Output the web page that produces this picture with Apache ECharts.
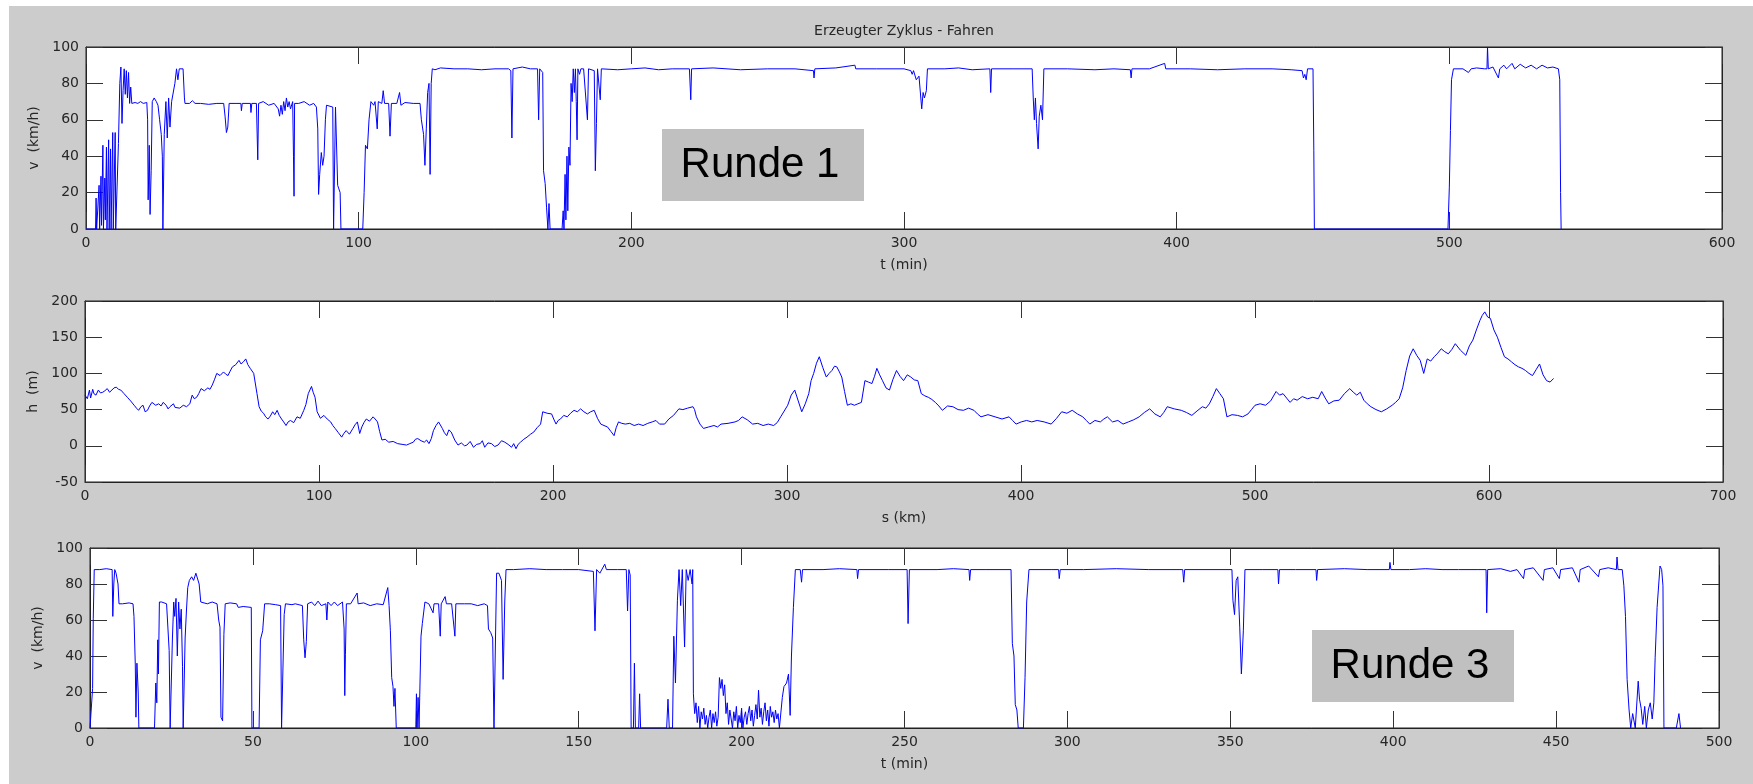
<!DOCTYPE html>
<html>
<head>
<meta charset="utf-8">
<script src="https://cdn.jsdelivr.net/npm/echarts@6/dist/echarts.min.js"></script>
<style>
html,body{margin:0;padding:0;background:#fff;}
#c{width:1753px;height:784px;}
</style>
</head>
<body>
<div id="c"></div>
<script>
// ---- Data ----
const chartTitle = 'Erzeugter Zyklus - Fahren';

// Runde 1: [t (min), v (km/h)]
const runde1 = [[0,0],[3.5,0],[3.7,17],[3.9,0],[4.6,0],[4.8,24],[5.0,0],[5.5,29],[5.7,2],[6.2,46],[6.4,0],[6.9,28],[7.1,5],[7.5,45],[7.7,0],[8.3,49],[8.5,0],[9.0,44],[9.2,0],[9.8,53],[10.0,0],[10.7,53],[10.9,0],[11.6,0],[11.9,47],[12.4,80],[12.8,89],[13.2,58],[13.6,76],[14.0,88],[14.4,74],[14.8,87],[15.2,72],[15.6,86],[16.0,69],[16.4,78],[16.8,69],[17.5,69],[18,69.5],[19,69],[20,70],[21,69],[22.3,69.5],[22.6,60],[22.8,16],[23.2,46],[23.5,8],[23.9,32],[24.3,70],[25,72],[25.8,70],[26.4,68],[27,60],[27.6,52],[28,40],[28.2,0],[28.5,0],[28.7,52],[29.3,70],[29.8,50],[30.3,72],[30.8,56],[31.4,70],[32,71],[32.6,80],[33.2,88],[33.7,82],[34.2,88],[35.6,88],[36.1,72],[36.3,69],[38,69],[39,70.5],[40,69],[42,69],[45,68.5],[48,69],[50.5,69],[51,62],[51.5,53],[52,56],[52.5,69],[55,69],[56.8,69],[57,65],[57.3,69],[60.3,69],[60.5,64],[60.8,69],[62.5,69],[62.8,50],[63,38],[63.3,69],[65,70],[67,68],[69,69],[70.5,66],[71,62],[71.5,68],[72,63],[72.5,70],[73,65],[73.5,72],[74,67],[74.5,70],[75,66],[75.8,70],[76.1,40],[76.3,18],[76.5,69],[78,69],[80,70],[82,68],[83.5,69],[84.5,67],[85,55],[85.3,19],[85.7,30],[86.3,42],[86.8,35],[87.3,40],[87.8,60],[88.2,68],[90.5,67],[90.8,0],[91.2,0],[91.5,67],[92,67],[92.3,24],[93.2,20],[93.5,0],[101.5,0],[102,20],[102.5,46],[103.2,44],[103.8,60],[104.5,70],[105.5,68],[106,70],[106.8,55],[107.2,70],[108.5,69],[109,76],[109.5,69],[111,69],[111.5,51],[112,69],[114,69],[115,75],[115.5,68],[117,69.5],[120,69],[122.5,69],[123,60],[123.8,52],[124.3,35],[124.8,55],[125.3,75],[125.8,80],[126.2,30],[126.6,80],[127,88],[128,87.5],[130,88.5],[135,88],[140,88],[145,87.5],[150,88],[155,88],[155.8,87],[156.2,50],[156.6,88],[160,89],[163,88],[165.6,88],[166,60],[166.4,88],[167.5,86],[167.8,32],[168.4,25],[168.9,12],[169.4,0],[169.8,14],[170.2,0],[174.6,0],[175,10],[175.3,0],[175.7,30],[176,5],[176.4,40],[176.7,10],[177.1,45],[177.5,35],[177.9,80],[178.3,70],[178.7,88],[179.1,75],[179.5,88],[179.8,70],[180.1,49],[180.4,88],[181,85],[181.5,88],[182.5,88],[183.9,60],[184.3,88],[186.4,87],[186.8,32],[187.2,58],[187.6,88],[188.2,88],[188.6,71],[189,88],[195,87.5],[200,88],[205,88.5],[210,87.5],[215,88],[221.3,88],[221.6,87],[221.8,71],[222.1,88],[230,88.5],[240,87.5],[250,88],[260,88],[266.8,87],[267,83],[267.3,88],[275,88.5],[282,90],[282.3,88],[290,88],[300,88],[302.5,87],[303,85],[303.5,87],[304.5,82],[305.5,84],[306.5,66],[307,75],[307.5,72],[308.2,76],[308.6,88],[315,88],[320,88.5],[325,87.5],[331.5,88],[331.8,75],[332.1,88],[340,88],[347,88],[347.4,72],[347.8,60],[348.2,72],[348.6,58],[349.2,44],[349.6,62],[350.2,68],[350.8,60],[351.3,88],[360,88],[370,87.5],[377,88],[383,87.5],[383.3,83],[383.6,88],[390,88],[395.6,91],[396,88],[405,88],[415,87.5],[425,88],[435,88],[442,87.5],[446,87],[446.5,83],[447,85],[447.5,82],[448,88],[450,88],[450.3,43],[450.5,0],[499.5,0],[500,23],[500.4,54],[500.8,82],[501.5,88],[505,88],[507,86],[508,88],[510,88.5],[513,88],[513.8,88],[514,100],[514.3,88],[516,89],[518,83],[518.5,88],[520,90],[521,88],[523,91],[524,88],[526,90.5],[528,88.5],[530,90],[532,88],[534,90],[536,88.5],[538,89],[540,88],[540.5,82],[540.8,20],[541,0]];

// Elevation profile: [s (km), h (m)]
const hoehe = [[0,70],[1,65],[1.9,77],[2.4,66],[2.9,68],[3.3,78],[3.8,72],[4.7,70],[5.7,77],[6.6,73],[7.6,74],[8.5,76],[9.5,79],[10.5,74],[11.5,77],[12.4,80],[13.4,81],[14.3,78],[15.3,77],[16.7,72],[18.1,67],[19.5,62],[21,56],[22,52],[22.9,49],[23.9,54],[24.8,56],[25.7,47],[26.7,49],[27.6,55],[28.6,60],[29.4,58],[30.2,56],[31.5,58],[32.5,55],[33.4,60],[34.7,56],[35.5,51],[36.3,54],[37.8,58],[38.5,53],[39.1,54],[40.5,52],[42,56],[43.4,54],[44.8,58],[45.8,70],[46.7,65],[47.7,67],[48.6,72],[49.6,79],[51,76],[52.5,80],[53.4,78],[54.4,84],[55.4,92],[56.3,100],[57.7,97],[59.2,102],[60.1,99],[61.1,97],[62,103],[63,109],[64.4,112],[65.8,118],[66.7,113],[67.7,116],[68.7,120],[69.6,112],[70.6,107],[72.1,100],[73.5,72],[74.4,54],[75.3,48],[76.3,45],[77.2,40],[78.2,37],[79.2,41],[80.2,47],[81.1,43],[82.1,49],[83,42],[84,37],[84.9,33],[85.9,28],[86.8,33],[87.8,35],[89.2,32],[90.6,40],[92,38],[93.5,49],[94.4,57],[95.4,72],[96.8,82],[97.5,74],[98.3,67],[99.2,47],[100.6,38],[102.1,42],[103.5,37],[105,33],[105.9,28],[106.9,24],[108.3,18],[109.7,12],[110.6,17],[111.6,21],[113,16],[114.5,24],[115.4,29],[116.4,33],[117.4,17],[118.3,26],[119.2,32],[120.2,37],[121.6,34],[123.1,40],[124,37],[125,33],[125.9,20],[126.9,8],[128.3,9],[129.8,5],[131.7,6],[133.6,3],[135.5,2],[137.4,1],[138.8,3],[140.3,5],[141.2,9],[142.2,10],[143.6,7],[145,5],[146,8],[147,3],[148,10],[148.9,21],[150,28],[151.1,33],[152.7,24],[153.6,18],[154.6,14],[155.5,22],[156.5,19],[158,8],[159.4,1],[160.8,4],[162.2,0],[163.2,1],[164.6,6],[166,-2],[167.4,2],[168.9,3],[169.8,7],[170.8,-2],[172.2,4],[173.7,3],[175.1,-1],[176.5,1],[178,7],[179.4,5],[180.8,2],[182.3,-2],[183.2,3],[184.2,-4],[185.1,2],[186.1,5],[187.5,9],[188.9,12],[190.4,16],[191.8,19],[193.2,25],[194.7,30],[195.6,47],[197.5,45],[199.4,44],[200.3,37],[201.3,30],[202.2,35],[203.2,37],[204.6,42],[206.1,40],[207.5,45],[209,49],[210.4,47],[211.8,51],[213.2,47],[214.7,44],[216.1,47],[217.6,49],[219,38],[220.4,30],[221.8,28],[223.3,26],[224.7,20],[226.1,14],[227,25],[228,33],[229.4,31],[230.9,30],[232.8,31],[234.7,28],[236.6,30],[238.5,28],[240.5,31],[242.4,33],[244,35],[245.5,30],[247.7,30],[249.5,37],[251.5,42],[253.8,51],[255.5,50],[257.5,52],[259.8,54],[260.5,50],[261.3,40],[262.8,30],[264.3,24],[266.5,26],[268.8,28],[270.3,26],[271.8,30],[274.8,31],[277.8,33],[279.3,35],[280.8,40],[283,36],[285.3,30],[287.5,31],[289.8,28],[292,30],[294.3,28],[295.8,32],[297.3,40],[298.8,48],[300.3,56],[301.8,70],[303.3,77],[304.8,62],[306.3,47],[307.8,58],[309.3,72],[310.3,90],[311.4,100],[312.6,114],[313.8,123],[315.3,108],[316.8,95],[318,100],[319.2,104],[320.3,110],[321.3,109],[322.4,102],[323.4,95],[324.6,75],[325.8,56],[327.3,58],[328.8,56],[330.3,58],[331.8,60],[333.3,90],[334.8,88],[336.3,86],[337.4,96],[338.4,107],[339.6,98],[340.8,90],[342.3,80],[343.8,77],[345.3,92],[346.8,104],[348.3,96],[349.8,90],[351.4,98],[352.9,95],[354.4,91],[355.9,90],[357.4,72],[358.9,69],[360.4,67],[361.9,64],[363.4,60],[364.9,55],[366.4,49],[368.6,55],[370.9,54],[373.1,50],[375.4,49],[377.6,52],[379.9,49],[381.4,44],[382.9,40],[385.9,43],[388.9,40],[391.9,37],[394.9,40],[396.4,35],[397.9,30],[400.1,33],[402.4,35],[404.6,33],[406.9,35],[409.9,33],[412.9,30],[415.2,38],[417.4,47],[419.6,45],[421.9,49],[424.1,44],[426.4,40],[427.9,35],[429.4,30],[431.6,35],[433.9,33],[435.4,37],[436.9,40],[439.1,33],[441.4,35],[443.6,30],[445.9,33],[448.2,36],[450.5,40],[452.7,46],[455,51],[457.2,44],[459.5,40],[461,46],[462.5,54],[465.5,51],[468.5,49],[470.7,46],[473,42],[475.2,48],[477.5,54],[479,52],[480.5,58],[482,68],[483.5,79],[485,72],[486.5,65],[488,40],[490.2,43],[492.5,42],[494.7,40],[497,44],[498.5,50],[500,56],[502.2,58],[504.5,56],[506.7,62],[509,75],[510.5,70],[512,72],[513.5,66],[515,60],[516.5,65],[518,63],[520.2,68],[522.5,65],[524.7,67],[527,65],[528.5,75],[530,66],[531.5,58],[533.7,62],[536,63],[538.2,72],[540.5,79],[542,74],[543.5,70],[545,74],[546.5,63],[548,58],[549.5,54],[551.7,50],[554,47],[556.3,51],[558.6,56],[560.1,60],[561.6,65],[563.1,80],[564.6,104],[566.1,124],[567.6,134],[569.1,125],[570.6,118],[572.1,100],[573.6,120],[575.1,117],[576.6,123],[578.1,128],[579.6,134],[581.1,130],[582.6,127],[584.1,133],[585.6,141],[587.8,132],[590.1,125],[591.6,138],[593.1,146],[594.6,160],[596.1,173],[597.1,180],[598.2,185],[599.4,178],[600.6,176],[602.1,160],[603.6,150],[605.1,136],[606.6,123],[608.1,120],[609.6,116],[611.1,112],[612.6,109],[614.1,107],[615.6,104],[617.1,100],[618.6,97],[620.1,105],[621.6,113],[623.1,98],[624.6,90],[626.1,88],[627.6,93]];

// Runde 3: [t (min), v (km/h)]
const runde3 = [[0,0],[0.6,0],[0.8,22],[1.0,61],[1.3,88],[3,88],[5,88.5],[6.8,88],[7.0,62],[7.3,80],[7.6,88],[8.0,86],[8.6,80],[8.9,69],[10,69],[12,69.5],[13.2,69],[13.5,62],[13.9,35],[14.1,6],[14.4,36],[14.8,20],[15.0,0],[19.8,0],[20.2,25],[20.5,14],[20.8,49],[21.0,30],[21.3,70],[22,70],[23.5,69],[24,68],[24.3,43],[24.6,0],[24.9,0],[25.3,50],[25.7,70],[26,62],[26.4,72],[26.8,40],[27.2,70],[27.6,55],[28,66],[28.4,34],[28.6,0],[28.8,0],[29.2,50],[29.6,65],[30,78],[30.5,82],[31.2,84],[31.8,82],[32.5,86],[33,87],[33.5,80],[34,70],[34.5,69],[36,69],[37.5,70],[39,69],[39.5,60],[39.9,56],[40.2,6],[40.7,4],[41.1,52],[41.5,69],[43,69.5],[45,69],[45.5,67],[47,67.5],[49.5,67],[49.7,0],[51.9,0],[52.3,49],[53,54],[53.6,69],[55,69],[57,68.5],[58.5,68],[58.8,0],[59.3,0],[59.6,63],[60,69],[62,68.5],[63,69],[65.2,68],[65.6,49],[66,39],[66.4,48],[66.8,69],[68,70],[69,68],[70,70.5],[71,68],[72.4,69],[72.7,60],[73,70],[74,68],[75,70],[76,68],[77.5,70],[78,55],[78.2,18],[78.4,41],[78.7,69],[80,69],[82,75],[82.3,69],[84,69.5],[86,68],[88,69],[90,68.5],[91.4,78],[91.8,68],[92.2,54],[92.6,28],[93,23],[93.3,12],[93.6,22],[94,0],[100,0],[100.2,19],[100.4,0],[100.7,17],[101,0],[101.3,0],[101.6,51],[102,58],[102.8,70],[104,69],[105.3,64],[105.6,69],[107,69],[107.5,51],[107.8,69],[109,73],[109.4,69],[111,69],[112,51],[112.3,69],[115,69],[117,69],[119,68],[121,69],[122,68],[122.3,55],[123,53],[123.6,50],[124,0],[124.3,0],[124.8,86],[125.5,86],[126.3,82],[126.8,27],[127.3,70],[127.7,88],[130,88],[135,88.5],[140,88],[145,88],[150,88],[154.5,87],[155,54],[155.5,88],[156.5,86],[158,91],[158.5,88],[162,88],[164.6,88],[165,65],[165.4,88],[165.8,85],[166.1,0],[166.8,0],[167.1,36],[167.4,0],[168.4,0],[168.7,19],[169,0],[177,0],[177.4,16],[177.8,0],[178.8,0],[179.2,51],[179.7,25],[180.3,71],[180.8,88],[181.3,68],[181.8,88],[182.5,45],[183,88],[183.6,82],[184.2,88],[184.8,80],[185.0,88],[185.2,19],[185.6,8],[186,14],[186.4,3],[186.8,12],[187.2,0],[187.6,9],[188,5],[188.4,11],[188.8,2],[189.2,7],[189.6,0],[190,6],[190.4,10],[190.8,0],[191.2,8],[191.6,3],[192,9],[192.4,1],[192.8,6],[193.2,28],[193.6,22],[194,27],[194.4,18],[194.8,24],[195.2,8],[195.6,14],[196,2],[196.4,10],[196.8,5],[197.2,0],[197.6,9],[198,4],[198.4,12],[198.8,0],[199.2,7],[199.6,3],[200,11],[200.4,0],[200.8,6],[201.2,9],[201.6,2],[202,8],[202.4,12],[202.8,4],[203.2,10],[203.6,1],[204,7],[204.4,13],[204.8,5],[205.2,21],[205.6,6],[206,11],[206.4,2],[206.8,9],[207.2,14],[207.6,4],[208,10],[208.4,1],[208.8,12],[209.2,6],[209.6,9],[210,3],[210.4,10],[210.8,5],[211.2,8],[211.6,0],[212,0],[212.5,17],[213,23],[213.8,25],[214.4,30],[214.9,7],[215.3,40],[215.9,67],[216.5,88],[218,88],[218.4,81],[218.7,88],[225,88],[230,88.5],[235.4,88],[235.6,83],[235.9,88],[245,88],[250.8,88],[251.1,58],[251.5,88],[260,88],[265,88.5],[269.8,88],[270,82],[270.3,88],[275,88],[282.7,88],[283.1,47],[283.6,40],[284,13],[284.5,10],[284.9,0],[286.5,0],[287,28],[287.5,70],[288.2,88],[295,88],[297.3,88],[297.5,83],[297.8,88],[305,88],[315,88.5],[325,88],[335.4,88],[335.7,81],[336,88],[345,88],[350.5,88],[350.8,71],[351.3,63],[351.8,82],[352.3,84],[352.9,56],[353.4,30],[354,54],[354.5,88],[360,88],[364.6,88],[364.8,80],[365.1,88],[370,88],[376.3,88],[376.5,82],[376.8,88],[385,88.5],[392,88],[398.8,88],[399,92],[399.3,88],[405,88],[410,88.5],[415,88],[420,88],[426,88],[428.5,88],[428.7,64],[429,88],[433,88.5],[436,87],[438,88],[440,83],[440.4,88],[443,89],[446,82],[446.4,88],[449,89],[451,83],[451.4,88],[455,89],[457,81],[457.4,88],[460,90],[463,84],[463.4,88],[466,89],[468.5,88],[468.7,95],[469,88],[470.3,88],[470.8,79],[471.3,62],[471.8,27],[472.4,10],[472.9,0],[473.5,8],[474.3,0],[475.2,26],[475.6,16],[476.1,11],[476.6,2],[477.2,12],[477.7,0],[478.3,10],[478.9,14],[479.5,5],[480,14],[480.4,39],[481,67],[481.9,90],[482.4,88],[482.8,79],[483.1,0],[486.9,0],[487.7,8],[488.2,0]];

// ---- Layout / style ----
const font = 'DejaVu Sans';
const labelColor = '#262626';
const lineColor = '#222';

const grids = [
  {left: 86, top: 47, width: 1636, height: 182},
  {left: 85, top: 301, width: 1638, height: 181},
  {left: 90, top: 548, width: 1629, height: 180}
];

function xPair(g, max, interval, name) {
  const common = {gridIndex: g, type: 'value', min: 0, max: max, interval: interval,
    axisLine: {show: true, onZero: false, lineStyle: {color: lineColor, width: 1}},
    axisTick: {show: true, inside: true, length: 17, lineStyle: {color: '#333', width: 1}},
    splitLine: {show: false}};
  return [
    Object.assign({}, common, {position: 'bottom', name: name, nameLocation: 'middle', nameGap: 29,
      nameTextStyle: {fontFamily: font, fontSize: 14, color: labelColor},
      axisLabel: {show: true, margin: 7, fontFamily: font, fontSize: 14, color: labelColor}}),
    Object.assign({}, common, {position: 'top', axisLabel: {show: false}})
  ];
}
function yPair(g, min, max, interval, name) {
  const common = {gridIndex: g, type: 'value', min: min, max: max, interval: interval,
    axisLine: {show: true, onZero: false, lineStyle: {color: lineColor, width: 1}},
    axisTick: {show: true, inside: true, length: 17, lineStyle: {color: '#333', width: 1}},
    splitLine: {show: false}};
  return [
    Object.assign({}, common, {position: 'left', name: name, nameLocation: 'middle', nameGap: 43,
      nameTextStyle: {fontFamily: font, fontSize: 14, color: labelColor},
      axisLabel: {show: true, margin: 7, fontFamily: font, fontSize: 14, color: labelColor}}),
    Object.assign({}, common, {position: 'right', axisLabel: {show: false}})
  ];
}

const xAxes = [].concat(xPair(0, 600, 100, 't (min)'), xPair(1, 700, 100, 's (km)'), xPair(2, 500, 50, 't (min)'));
const yAxes = [].concat(yPair(0, 0, 100, 20, 'v  (km/h)'), yPair(1, -50, 200, 50, 'h  (m)'), yPair(2, 0, 100, 20, 'v  (km/h)'));

function lineSeries(data, axisIdx) {
  return {type: 'line', data: data, xAxisIndex: axisIdx * 2, yAxisIndex: axisIdx * 2,
    showSymbol: false, symbol: 'none', clip: true, animation: false,
    lineStyle: {color: '#0000ff', width: 1}, itemStyle: {color: '#0000ff'}};
}

function labelBox(x, y, w, h, text) {
  return {type: 'group', left: x, top: y, children: [
    {type: 'rect', shape: {x: 0, y: 0, width: w, height: h}, style: {fill: '#c0c0c0'}},
    {type: 'text', x: w / 2 - 3, y: h / 2, style: {text: text, font: '42px "Liberation Sans", Arial, sans-serif',
      fill: '#000', textAlign: 'center', textVerticalAlign: 'middle'}}
  ]};
}

const chart = echarts.init(document.getElementById('c'), null, {renderer: 'canvas'});
chart.setOption({
  animation: false,
  backgroundColor: '#cccccc',
  grid: grids.map(g => Object.assign({show: true, backgroundColor: '#ffffff', borderColor: lineColor, borderWidth: 1, containLabel: false}, g)),
  xAxis: xAxes,
  yAxis: yAxes,
  series: [lineSeries(runde1, 0), lineSeries(hoehe, 1), lineSeries(runde3, 2)],
  graphic: [
    {type: 'rect', left: 0, top: 0, shape: {width: 9, height: 784}, style: {fill: '#fff'}, z: 100},
    {type: 'rect', left: 0, top: 0, shape: {width: 1753, height: 6}, style: {fill: '#fff'}, z: 100},
    {type: 'text', x: 904, y: 31, style: {text: chartTitle, font: '14px "DejaVu Sans"', fill: labelColor,
      textAlign: 'center', textVerticalAlign: 'middle'}},
    labelBox(662, 129, 202, 72, 'Runde 1'),
    labelBox(1312, 630, 202, 72, 'Runde 3')
  ]
});
</script>
</body>
</html>
